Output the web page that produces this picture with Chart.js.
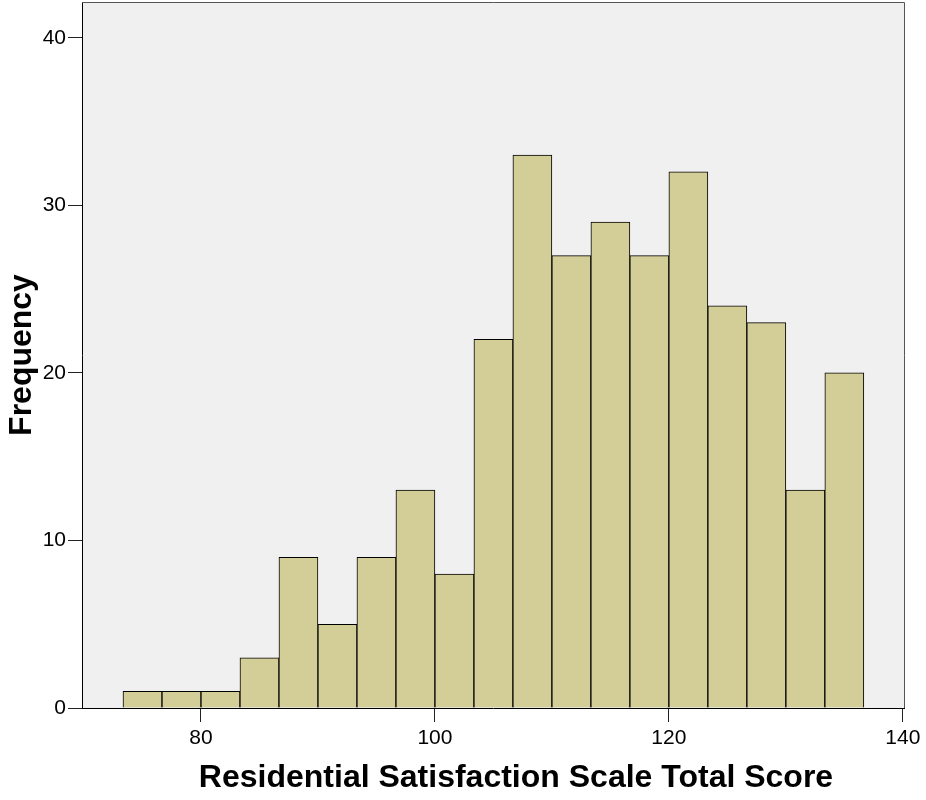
<!DOCTYPE html>
<html>
<head>
<meta charset="utf-8">
<script src="https://cdn.jsdelivr.net/npm/chart.js@4.4.1/dist/chart.umd.min.js"></script>
<style>
  html, body { margin: 0; padding: 0; background: #ffffff; }
  canvas { display: block; }
</style>
</head>
<body>
<canvas id="histChart" width="926" height="800"></canvas>
<script>
// bin midpoints (bin width 3.333)
const binCenters = [
  75, 78.333, 81.667, 85, 88.333, 91.667, 95, 98.333, 101.667, 105,
  108.333, 111.667, 115, 118.333, 121.667, 125, 128.333, 131.667, 135
];
const frequencies = [
  1, 1, 1, 3, 9, 5, 9, 13, 8, 22,
  33, 27, 29, 27, 32, 24, 23, 13, 20
];
const xTicks = [80, 100, 120, 140];
const yTicks = [0, 10, 20, 30, 40];
const xRange = [69.83, 140.1];
const yRange = [0, 42.14];

const FONT = "'Liberation Sans', Arial, Helvetica, sans-serif";

const plotFrame = {
  id: "plotFrame",
  beforeDraw(chart) {
    const { ctx, chartArea: a } = chart;
    ctx.save();
    ctx.fillStyle = "#f0f0f0";
    ctx.fillRect(a.left, a.top, a.right - a.left, a.bottom - a.top);
    ctx.restore();
  },
  afterDraw(chart) {
    const { ctx, chartArea: a } = chart;
    ctx.save();
    ctx.strokeStyle = "#555555";
    ctx.lineWidth = 1;
    ctx.beginPath();
    ctx.moveTo(a.left, a.top + 0.5);
    ctx.lineTo(a.right + 0.5, a.top + 0.5);
    ctx.lineTo(a.right + 0.5, a.bottom);
    ctx.stroke();

    // x axis title (sits a little right of the plot centre, as in the original)
    ctx.fillStyle = "#000";
    ctx.font = "bold 32px " + FONT;
    ctx.textAlign = "center";
    ctx.textBaseline = "alphabetic";
    ctx.fillText("Residential Satisfaction Scale Total Score",
      (a.left + a.right) / 2 + 23, a.bottom + 79);
    ctx.restore();
  }
};

new Chart(document.getElementById("histChart"), {
  type: "bar",
  data: {
    datasets: [{
      label: "Frequency",
      data: binCenters.map((c, i) => ({ x: c, y: frequencies[i] })),
      backgroundColor: "rgb(211,206,152)",
      borderColor: "#000000",
      borderWidth: 1,
      barPercentage: 1,
      categoryPercentage: 1
    }]
  },
  plugins: [plotFrame],
  options: {
    responsive: false,
    animation: false,
    layout: { padding: { top: 2, right: 22, left: 0, bottom: 0 } },
    plugins: {
      legend: { display: false },
      tooltip: { enabled: false }
    },
    scales: {
      x: {
        type: "linear",
        min: xRange[0],
        max: xRange[1],
        offset: false,
        afterBuildTicks: (s) => { s.ticks = xTicks.map(v => ({ value: v })); },
        afterFit: (s) => { s.height = 92; },
        ticks: {
          color: "#000",
          font: { family: FONT, size: 21 },
          padding: 4,
          maxRotation: 0,
          autoSkip: false
        },
        grid: {
          drawOnChartArea: false,
          drawTicks: true,
          tickLength: 14,
          tickColor: "#222",
          offset: false
        },
        border: { color: "#000", width: 1 }
      },
      y: {
        min: yRange[0],
        max: yRange[1],
        afterBuildTicks: (s) => { s.ticks = yTicks.map(v => ({ value: v })); },
        afterFit: (s) => { s.width = 82; s.paddingTop = 0; s.paddingBottom = 0; },
        ticks: {
          color: "#000",
          font: { family: FONT, size: 21 },
          padding: 2
        },
        grid: {
          drawOnChartArea: false,
          drawTicks: true,
          tickLength: 14,
          tickColor: "#222"
        },
        border: { color: "#000", width: 1 },
        title: {
          display: true,
          text: "Frequency",
          color: "#000",
          font: { family: FONT, size: 32, weight: "bold", lineHeight: 1.2 },
          padding: { top: 3, bottom: 0 }
        }
      }
    }
  }
});
</script>
</body>
</html>
